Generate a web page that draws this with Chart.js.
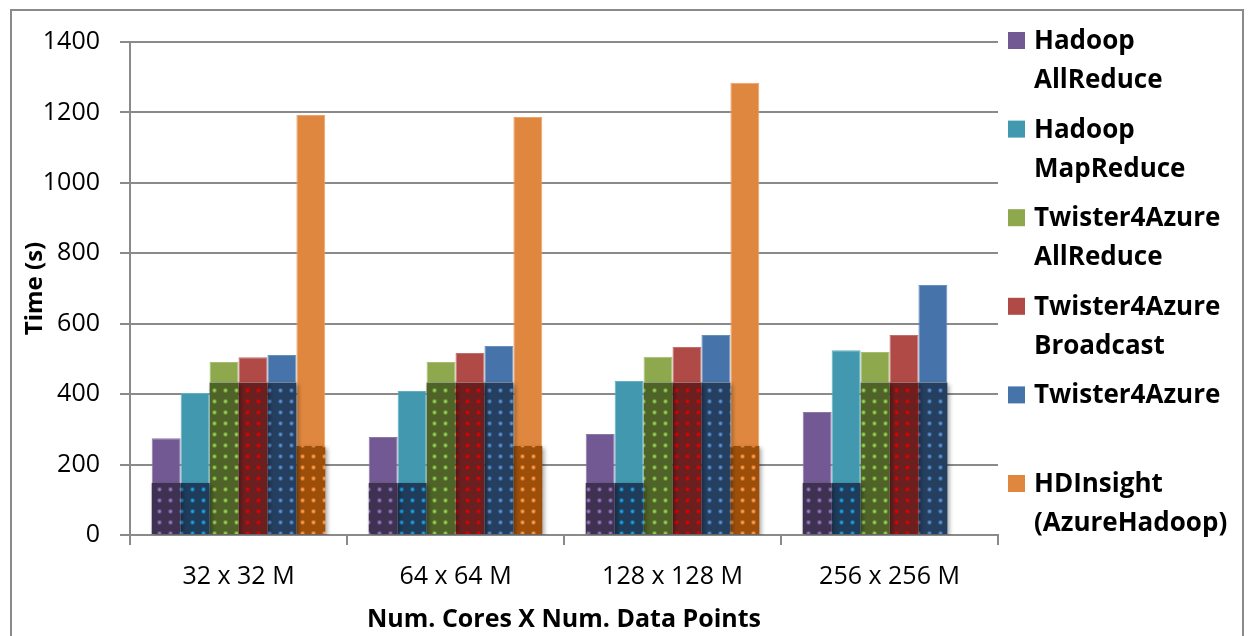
<!DOCTYPE html>
<html>
<head>
<meta charset="utf-8">
<script src="https://cdn.jsdelivr.net/npm/chart.js@4.4.1/dist/chart.umd.min.js"></script>
<style>
  html, body { margin: 0; padding: 0; background: #fff; overflow: hidden; }
  #wrap { position: relative; width: 1248px; height: 636px; }
  #frame { position: absolute; left: 10px; top: 9px; width: 1234px; height: 700px;
           border: 2px solid #8a8a8a; box-sizing: border-box; pointer-events: none; }
</style>
</head>
<body>
<div id="wrap">
  <canvas id="chart" width="1248" height="636"></canvas>
  <div id="frame"></div>
</div>
<script>
// categories and series (seconds)
const categories = ['32 x 32 M', '64 x 64 M', '128 x 128 M', '256 x 256 M'];
const seriesNames = [
  ['Hadoop', 'AllReduce'],
  ['Hadoop', 'MapReduce'],
  ['Twister4Azure', 'AllReduce'],
  ['Twister4Azure', 'Broadcast'],
  ['Twister4Azure', ''],
  ['HDInsight', '(AzureHadoop)']
];
const hadoopAllReduce  = [275, 278, 287, 349];
const hadoopMapReduce  = [403, 409, 437, 525];
const twisterAllReduce = [491, 491, 506, 520];
const twisterBroadcast = [505, 517, 534, 568];
const twister4Azure    = [511, 537, 568, 710];
const hdInsight        = [1193, 1187, 1284, null];
// lower (dotted) part of each bar
const hadoopLower  = [148, 148, 148, 148];
const twisterLower = [433, 433, 433, 433];
const hdiLower     = [253, 253, 253, null];
const yTicks = { min: 0, max: 1400, step: 200 };

const totals = [hadoopAllReduce, hadoopMapReduce, twisterAllReduce, twisterBroadcast, twister4Azure, hdInsight];
const lowers = [hadoopLower, hadoopLower, twisterLower, twisterLower, twisterLower, hdiLower];

const topColors  = ['#735993', '#4198af', '#8ea94d', '#b04a47', '#4674aa', '#df873e'];
const edgeColors = ['#8d77a8', '#62b0c4', '#a6bd70', '#c26e6b', '#6890bf', '#eea36a'];
const baseColors = ['#3f3151', '#1f3c5b', '#4f6228', '#6c1f1f', '#243f60', '#9d4f0a'];
const dotColors  = ['#9575bd', '#1ba1e2', '#92d050', '#e00000', '#5a8fd0', '#ff9a4a'];

const FONT = "'Open Sans', 'Liberation Sans', sans-serif";

function dotPattern(base, dot) {
  const c = document.createElement('canvas');
  c.width = 11; c.height = 11;
  const x = c.getContext('2d');
  x.fillStyle = base;
  x.fillRect(0, 0, 11, 11);
  x.fillStyle = dot;
  x.globalAlpha = 0.4;
  x.beginPath(); x.arc(5.5, 5.5, 2.4, 0, Math.PI * 2); x.fill();
  x.globalAlpha = 1;
  x.beginPath(); x.arc(5.5, 5.5, 1.4, 0, Math.PI * 2); x.fill();
  return document.getElementById('chart').getContext('2d').createPattern(c, 'repeat');
}

const datasets = [];
totals.forEach((tot, i) => {
  const low = lowers[i];
  datasets.push({
    label: seriesNames[i].join(' ') + ' (part)',
    stack: 's' + i,
    data: low,
    backgroundColor: dotPattern(baseColors[i], dotColors[i]),
    borderWidth: 0,
    isLower: true
  });
  datasets.push({
    label: seriesNames[i].join(' '),
    stack: 's' + i,
    data: tot.map((v, k) => v == null ? null : v - low[k]),
    backgroundColor: topColors[i],
    borderColor: edgeColors[i],
    borderWidth: 1,
    borderSkipped: 'bottom',
    legendLines: seriesNames[i]
  });
});

// soft shadow under the dotted parts
const shadowPlugin = {
  id: 'shadow',
  beforeDatasetDraw(chart, args) {
    if (!chart.data.datasets[args.index].isLower) return;
    const ctx = chart.ctx;
    ctx.save();
    ctx.shadowColor = 'rgba(0,0,0,0.35)';
    ctx.shadowBlur = 4;
    ctx.shadowOffsetX = 2;
    ctx.shadowOffsetY = 2;
  },
  afterDatasetDraw(chart, args) {
    if (!chart.data.datasets[args.index].isLower) return;
    chart.ctx.restore();
  }
};

// two-line legend on the right, like the original
const sideLegend = {
  id: 'sideLegend',
  afterDraw(chart) {
    const ctx = chart.ctx;
    ctx.save();
    ctx.font = 'bold 26px ' + FONT;
    ctx.textBaseline = 'alphabetic';
    let n = 0;
    chart.data.datasets.forEach(ds => {
      if (!ds.legendLines) return;
      const base = 49 + n * 88.6;
      ctx.fillStyle = ds.backgroundColor;
      ctx.fillRect(1008, base - 17, 17, 17);
      ctx.fillStyle = '#000';
      ctx.fillText(ds.legendLines[0], 1034, base);
      if (ds.legendLines[1]) ctx.fillText(ds.legendLines[1], 1034, base + 39);
      n++;
    });
    ctx.restore();
  }
};

new Chart(document.getElementById('chart'), {
  type: 'bar',
  data: { labels: categories, datasets },
  plugins: [shadowPlugin, sideLegend],
  options: {
    responsive: false,
    animation: false,
    layout: { padding: { top: 42, right: 250, left: 0, bottom: 0 } },
    datasets: { bar: { categoryPercentage: 0.8, barPercentage: 1 } },
    plugins: { legend: { display: false }, tooltip: { enabled: false } },
    scales: {
      x: {
        stacked: true,
        grid: { drawOnChartArea: false, tickLength: 10, color: '#8a8a8a', lineWidth: 2, offset: true },
        border: { color: '#8a8a8a', width: 2 },
        ticks: { color: '#000', font: { family: FONT, size: 25 }, padding: 17, maxRotation: 0 },
        title: { display: true, text: 'Num. Cores X Num. Data Points', color: '#000',
                 font: { family: FONT, size: 25, weight: 'bold', lineHeight: 1 }, padding: { top: 0, bottom: 4 } },
        afterFit(s) { s.height = 101; }
      },
      y: {
        stacked: true,
        min: yTicks.min, max: yTicks.max,
        grid: { color: '#8a8a8a', lineWidth: 2, tickLength: 10 },
        border: { color: '#8a8a8a', width: 2 },
        ticks: { stepSize: yTicks.step, color: '#000', font: { family: FONT, size: 25 }, padding: 20,
                 callback: v => String(v) },
        title: { display: true, text: 'Time (s)', color: '#000',
                 font: { family: FONT, size: 24, weight: 'bold', lineHeight: 1.2 }, padding: { top: 21, bottom: 0 } },
        afterFit(s) { s.width = 130; }
      }
    }
  }
});
</script>
</body>
</html>
